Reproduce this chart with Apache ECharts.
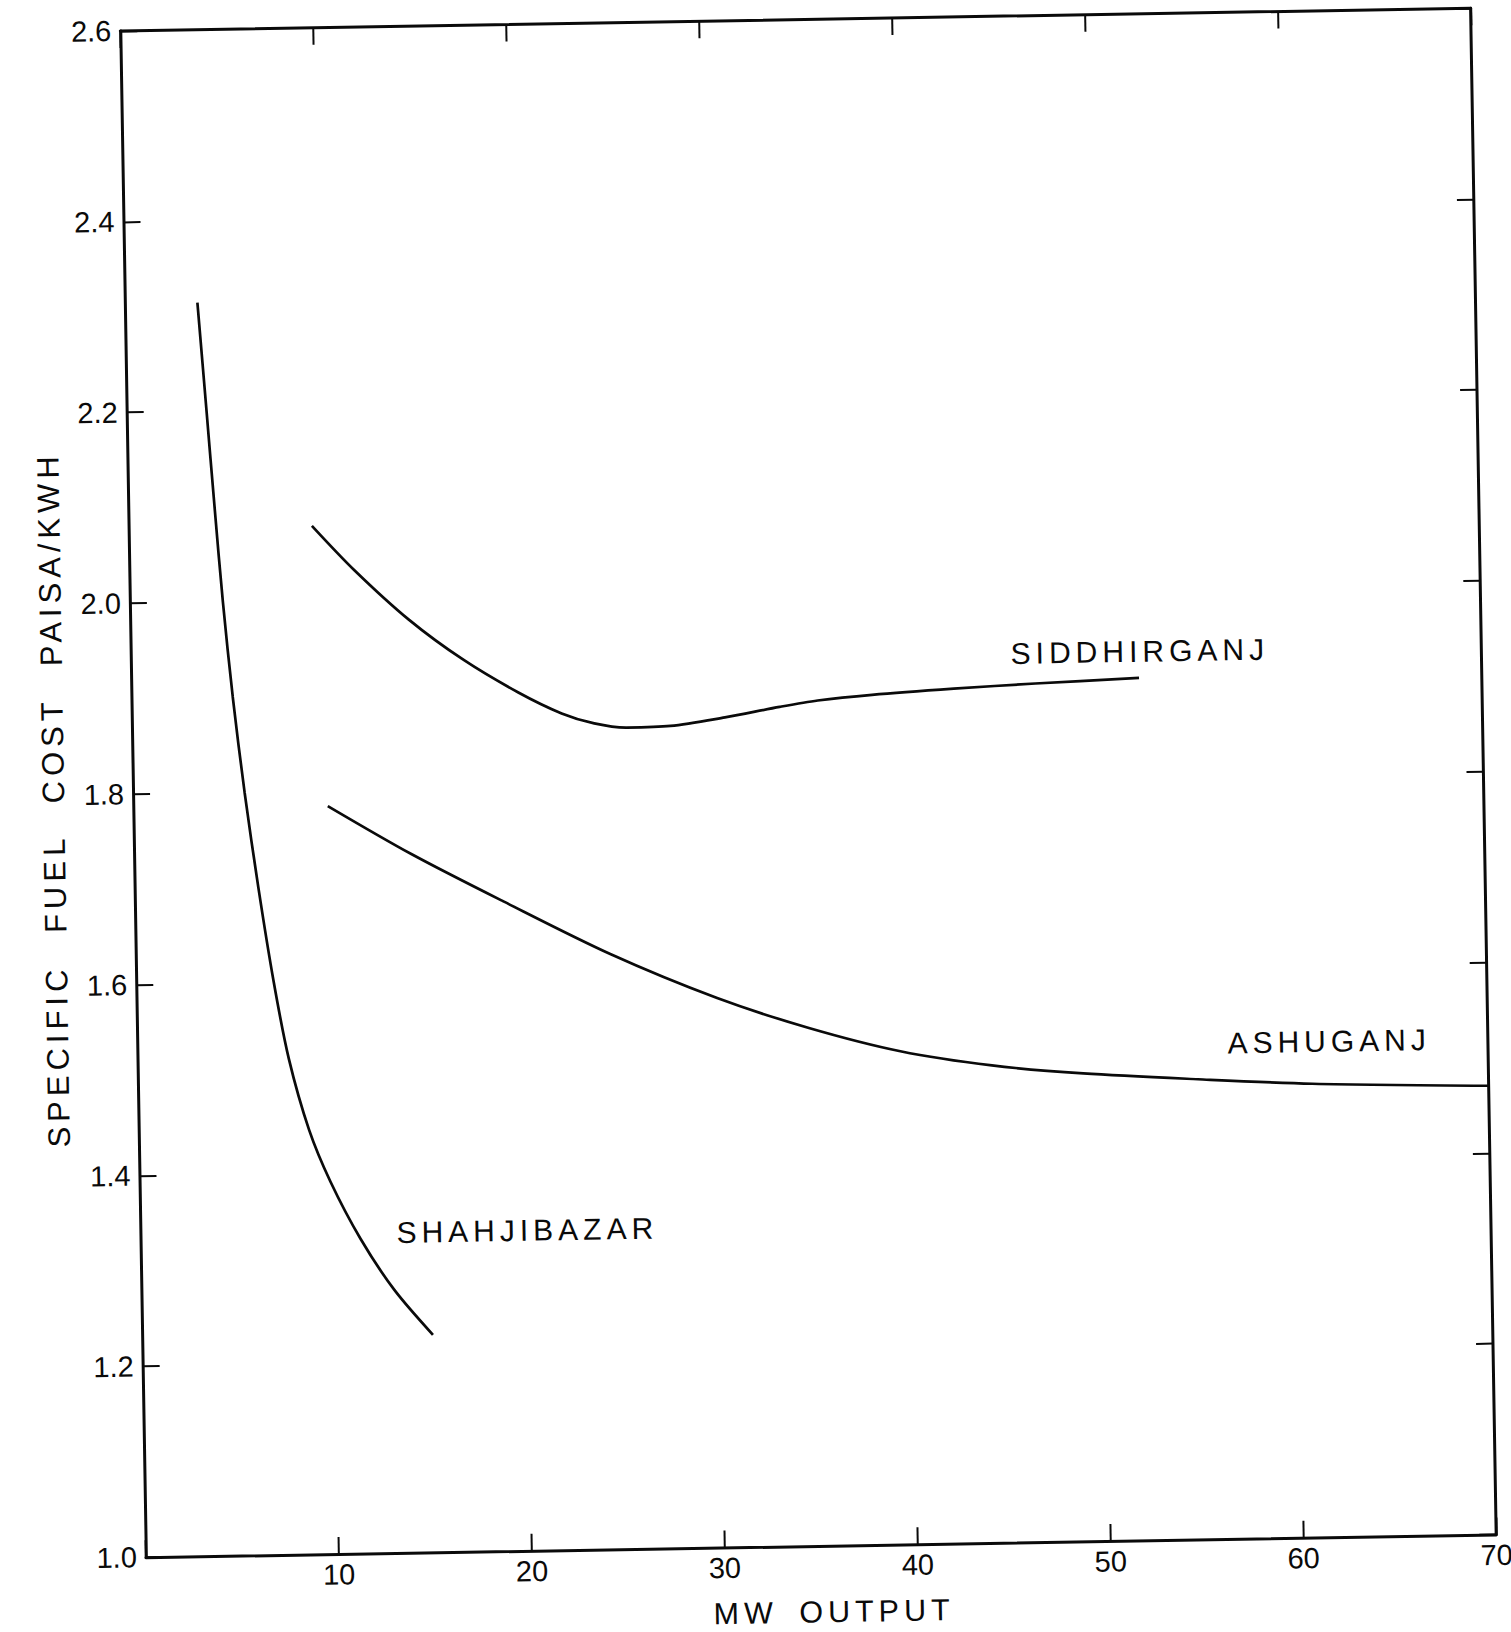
<!DOCTYPE html>
<html>
<head>
<meta charset="utf-8">
<title>Specific fuel cost vs MW output</title>
<script src="https://cdn.jsdelivr.net/npm/echarts@6/dist/echarts.min.js"></script>
<style>
  html, body { margin: 0; padding: 0; background: #fff; overflow: hidden; }
  #frame {
    position: absolute; left: 0; top: 0; width: 1511px; height: 1632px;
    transform: rotate(-0.96deg); transform-origin: 808px 784px;
  }
  /* lettering: station names and axis titles are widely spaced, tick numbers are not */
  #frame text { letter-spacing: 5px; word-spacing: 8px; }
  #frame text[style*="29px"] { letter-spacing: 0; word-spacing: 0; }
  #frame text[style*="31px"] { word-spacing: 18px; }
</style>
</head>
<body>
<div id="frame"></div>
<script>
// Tick values
const xTicks = [0, 10, 20, 30, 40, 50, 60, 70];
const yTicks = [1.0, 1.2, 1.4, 1.6, 1.8, 2.0, 2.2, 2.4, 2.6];

// Shahjibazar curve (MW output, paisa/kWh)
const shahjibazarX = [3.76, 4.14, 4.47, 4.82, 5.25, 5.78, 6.41, 7.13, 7.84, 8.83, 9.90, 11.40, 13.10, 15.07];
const shahjibazarY = [2.314, 2.20, 2.10, 2.00, 1.90, 1.80, 1.70, 1.60, 1.52, 1.445, 1.39, 1.33, 1.276, 1.228];

// Siddhirganj curve
const siddhirganjX = [9.5, 11.65, 14.44, 17.23, 20.03, 22.28, 23.96, 25.65, 27.91, 30.74, 33.58, 35.56, 38.38, 42.62, 46.85, 52.23];
const siddhirganjY = [2.078, 2.031, 1.978, 1.935, 1.900, 1.877, 1.866, 1.861, 1.862, 1.870, 1.880, 1.886, 1.891, 1.896, 1.900, 1.904];

// Ashuganj curve
const ashuganjX = [10.08, 14.39, 19.1, 24.59, 30.09, 34.82, 39.54, 44.27, 49.0, 54.94, 60.86, 70];
const ashuganjY = [1.784, 1.732, 1.681, 1.624, 1.576, 1.543, 1.517, 1.5005, 1.4905, 1.4824, 1.4757, 1.4705];

// Station names
const stationNames = ['SHAHJIBAZAR', 'SIDDHIRGANJ', 'ASHUGANJ'];

// Where each station name sits, in axis units (left edge, vertical middle)
const nameAnchors = [[13.27, 1.336], [45.6, 1.932], [56.5, 1.52]];

const pairs = (xs, ys) => xs.map((x, i) => [x, ys[i]]);

const INK = '#0a0a0a';
const FONT = 'Liberation Sans';
const nameText = { color: INK, fontFamily: FONT, fontSize: 30 };
const tickText = { color: INK, fontFamily: FONT, fontSize: 29 };

function curve(name, xs, ys, k) {
  return {
    type: 'line',
    name: name,
    xAxisIndex: 0, yAxisIndex: 0,
    data: pairs(xs, ys),
    smooth: 0.3,
    showSymbol: false,
    silent: true,
    lineStyle: { color: INK, width: 2.7 },
    markPoint: {
      symbol: 'circle',
      symbolSize: 0,
      silent: true,
      label: Object.assign({ show: true, position: 'right', distance: 0, formatter: name }, nameText),
      data: [{ coord: nameAnchors[k] }]
    }
  };
}

const axisLine = { show: true, onZero: false, lineStyle: { color: INK, width: 3 } };
const axisTick = { show: true, inside: true, length: 17, lineStyle: { color: INK, width: 2 } };

const chart = echarts.init(document.getElementById('frame'), null, { renderer: 'svg' });
chart.setOption({
  animation: false,
  backgroundColor: '#fff',
  grid: { left: 133, top: 19.5, width: 1350.6, height: 1529.3, show: false },
  xAxis: [
    {
      type: 'value', position: 'bottom',
      min: xTicks[0], max: xTicks[xTicks.length - 1], interval: 10,
      axisLine: axisLine, axisTick: axisTick, splitLine: { show: false },
      axisLabel: Object.assign({ margin: 6, formatter: v => (v === 0 ? '' : String(v)) }, tickText),
      name: 'MW OUTPUT', nameLocation: 'middle', nameGap: 50,
      nameTextStyle: { color: INK, fontFamily: FONT, fontSize: 30.5, padding: [0, 0, 0, 24] }
    },
    {
      type: 'value', position: 'top',
      min: xTicks[0], max: xTicks[xTicks.length - 1], interval: 10,
      axisLine: axisLine, axisTick: axisTick, splitLine: { show: false },
      axisLabel: { show: false }
    }
  ],
  yAxis: [
    {
      type: 'value', position: 'left',
      min: yTicks[0], max: yTicks[yTicks.length - 1], interval: 0.2,
      axisLine: axisLine, axisTick: axisTick, splitLine: { show: false },
      axisLabel: Object.assign({ margin: 9, formatter: v => v.toFixed(1) }, tickText),
      name: 'SPECIFIC FUEL COST PAISA/KWH', nameLocation: 'middle', nameGap: 64,
      nameTextStyle: { color: INK, fontFamily: FONT, fontSize: 31, padding: [0, 8, 0, 0] }
    },
    {
      type: 'value', position: 'right',
      min: yTicks[0], max: yTicks[yTicks.length - 1], interval: 0.2,
      axisLine: axisLine, axisTick: axisTick, splitLine: { show: false },
      axisLabel: { show: false }
    }
  ],
  series: [
    curve(stationNames[0], shahjibazarX, shahjibazarY, 0),
    curve(stationNames[1], siddhirganjX, siddhirganjY, 1),
    curve(stationNames[2], ashuganjX, ashuganjY, 2)
  ]
});
</script>
</body>
</html>
